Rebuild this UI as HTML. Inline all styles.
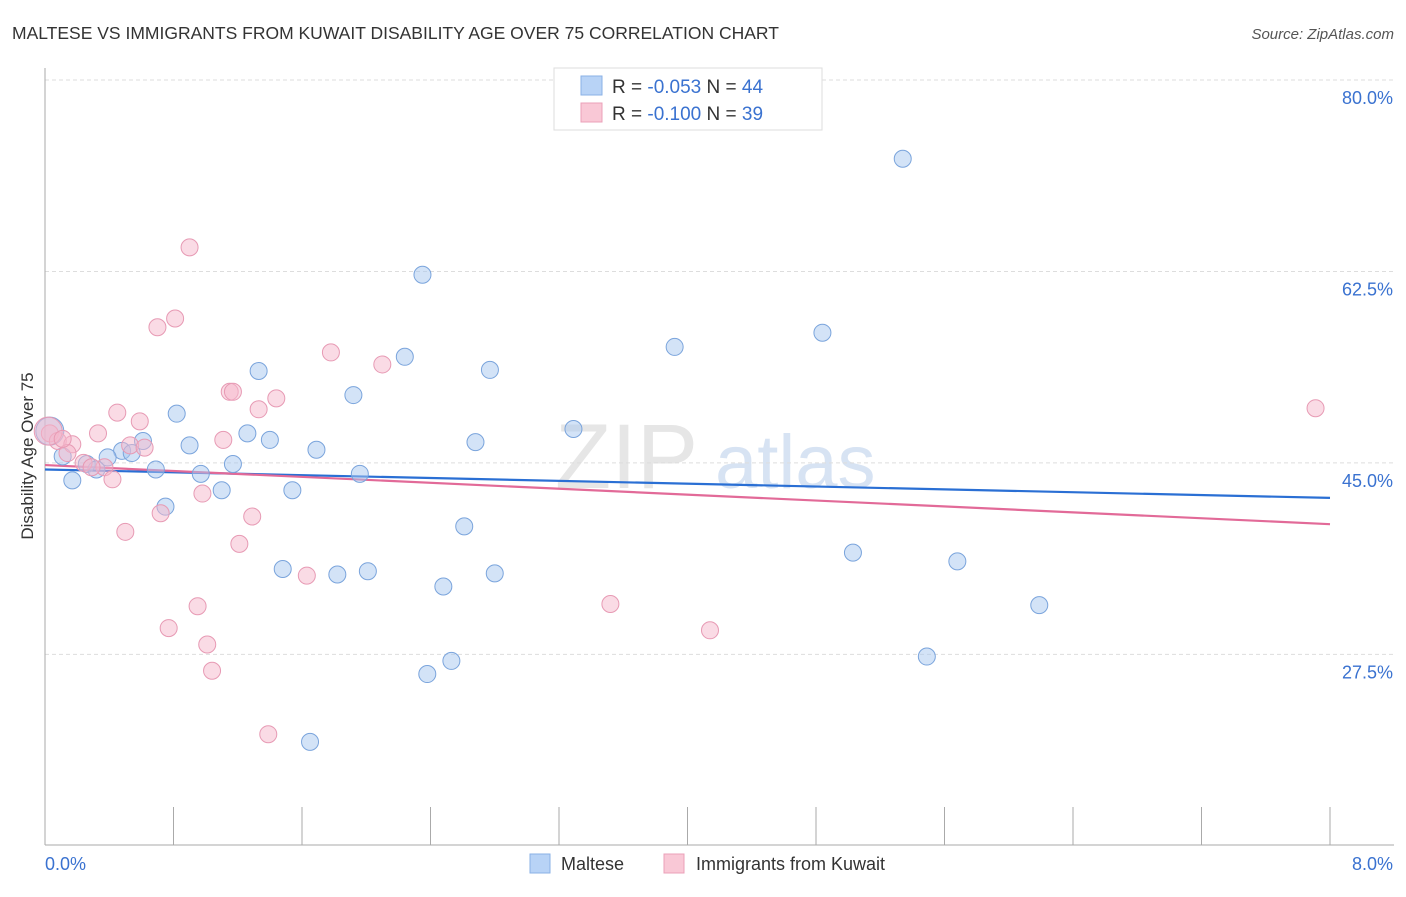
<!DOCTYPE html>
<html><head><meta charset="utf-8"><style>
body{margin:0;background:#fff;font-family:"Liberation Sans",sans-serif;}
svg text{font-family:"Liberation Sans",sans-serif;}
</style></head><body>
<svg id="chart" width="1406" height="892" xmlns="http://www.w3.org/2000/svg">
<text x="12" y="39" font-size="17.5" fill="#333">MALTESE VS IMMIGRANTS FROM KUWAIT DISABILITY AGE OVER 75 CORRELATION CHART</text>
<text x="1394" y="39" font-size="15" fill="#555" text-anchor="end" font-style="italic">Source: ZipAtlas.com</text>
<text x="555" y="488" font-size="92" fill="#e6e6e6" font-family="Liberation Serif">ZIP</text>
<text x="715" y="488" font-size="76" fill="#d7e3f3">atlas</text>
<g id="grid"></g>
<g id="axes"></g>
<text transform="translate(33,456) rotate(-90)" font-size="17" fill="#333" text-anchor="middle">Disability Age Over 75</text>
<g id="trends"></g>
<g id="points"></g>
<g>
<rect x="554" y="68" width="268" height="62" fill="#fff" stroke="#ddd"/>
<rect x="581" y="76" width="21" height="19" fill="#b8d3f6" stroke="#8ab0e6"/>
<text x="612" y="93" font-size="19" fill="#333">R = <tspan fill="#3a72d0">-0.053</tspan>   N = <tspan fill="#3a72d0">44</tspan></text>
<rect x="581" y="103" width="21" height="19" fill="#f9c8d6" stroke="#eba0b8"/>
<text x="612" y="120" font-size="19" fill="#333">R =  <tspan fill="#3a72d0">-0.100</tspan>   N =  <tspan fill="#3a72d0">39</tspan></text>
</g>
<g>
<rect x="530" y="854" width="20" height="19" fill="#b8d3f6" stroke="#8ab0e6"/>
<text x="561" y="870" font-size="18" fill="#333">Maltese</text>
<rect x="664" y="854" width="20" height="19" fill="#f9c8d6" stroke="#eba0b8"/>
<text x="696" y="870" font-size="18" fill="#333">Immigrants from Kuwait</text>
</g>
</svg>
<script>
const yTicks=[80,62.5,45,27.5];
const yTickLabels=["80.0%","62.5%","45.0%","27.5%"];
const xTickCount=10;
const blueX=[5.34,2.35,4.84,3.92,2.24,1.33,2.77,1.92,0.82,3.29,1.26,1.40,2.68,0.90,0.61,0.48,0.54,1.69,0.11,0.39,0.26,0.32,0.69,1.17,0.97,1.96,0.17,1.10,1.54,0.75,2.61,5.03,5.68,1.48,1.82,2.01,2.80,2.48,6.19,5.49,2.53,2.38,1.65,0.03];
const blueY=[72.8,62.2,56.9,55.6,54.7,53.4,53.5,51.2,49.5,48.1,47.7,47.1,46.9,46.6,47.0,46.1,45.9,46.2,45.6,45.5,44.9,44.4,44.4,44.9,44.0,44.0,43.4,42.5,42.5,41.0,39.2,36.8,36.0,35.3,34.8,35.1,34.9,33.7,32.0,27.3,26.9,25.7,19.5,47.9];
const pinkX=[0.90,0.81,0.70,1.78,2.10,1.15,1.17,1.44,1.33,0.45,0.59,7.91,0.33,1.11,0.03,0.08,0.17,0.53,0.62,0.14,0.24,0.37,0.42,0.98,0.72,1.29,0.50,1.21,1.63,3.52,0.95,0.77,4.14,1.01,1.04,1.39,0.02,0.11,0.29];
const pinkY=[64.7,58.2,57.4,55.1,54.0,51.5,51.5,50.9,49.9,49.6,48.8,50.0,47.7,47.1,47.7,47.0,46.7,46.6,46.4,45.9,45.0,44.6,43.5,42.2,40.4,40.1,38.7,37.6,34.7,32.1,31.9,29.9,29.7,28.4,26.0,20.2,47.9,47.2,44.6];
const blueTrend=[44.4,41.8];
const pinkTrend=[44.8,39.4];
const X0=45,X1=1330,Y80=80,PX=10.94;
const xs=v=>X0+v/8*(X1-X0);
const ys=v=>Y80+(80-v)*PX;
const NS="http://www.w3.org/2000/svg";
function mk(tag,attrs,parent){const e=document.createElementNS(NS,tag);for(const k in attrs)e.setAttribute(k,attrs[k]);parent.appendChild(e);return e;}
const grid=document.getElementById('grid'),axes=document.getElementById('axes');
yTicks.forEach((t,i)=>{
 const l=mk('line',{x1:45,x2:1394,y1:ys(t),y2:ys(t),stroke:'#ddd','stroke-dasharray':'4,3'},grid);
 
 
 const tx=mk('text',{x:1393,y:ys(t)+24,'font-size':18,fill:'#3a72d0','text-anchor':'end'},axes);
 tx.textContent=yTickLabels[i];
 
 
});
const ya=mk('line',{x1:45,x2:45,y1:68,y2:845,stroke:'#aaa'},axes);


const xa=mk('line',{x1:45,x2:1394,y1:845,y2:845,stroke:'#aaa'},axes);


for(let i=1;i<=xTickCount;i++){
 const t=mk('line',{x1:xs(i*0.8),x2:xs(i*0.8),y1:807,y2:845,stroke:'#aaa'},axes);
 
 
}
const xl0=mk('text',{x:45,y:870,'font-size':18,fill:'#3a72d0'},axes);xl0.textContent='0.0%';


const xl1=mk('text',{x:1393,y:870,'font-size':18,fill:'#3a72d0','text-anchor':'end'},axes);xl1.textContent='8.0%';


const pts=document.getElementById('points');
blueX.forEach((x,i)=>{
 const c=mk('circle',{cx:xs(x),cy:ys(blueY[i]),r:i==blueX.length-1?14:8.5,fill:'rgba(168,200,240,0.5)',stroke:'#7aa4dc','stroke-width':1},pts);
 
 
});
pinkX.forEach((x,i)=>{
 const c=mk('circle',{cx:xs(x),cy:ys(pinkY[i]),r:i==36?14:8.5,fill:'rgba(245,184,204,0.5)',stroke:'#e79ab4','stroke-width':1},pts);
 
 
});
const tr=document.getElementById('trends');
const bt=mk('line',{x1:xs(0),x2:xs(8),y1:ys(blueTrend[0]),y2:ys(blueTrend[1]),stroke:'#2a6fd4','stroke-width':2.2},tr);


const pt=mk('line',{x1:xs(0),x2:xs(8),y1:ys(pinkTrend[0]),y2:ys(pinkTrend[1]),stroke:'#e26a98','stroke-width':2.2},tr);


</script>
</body></html>
